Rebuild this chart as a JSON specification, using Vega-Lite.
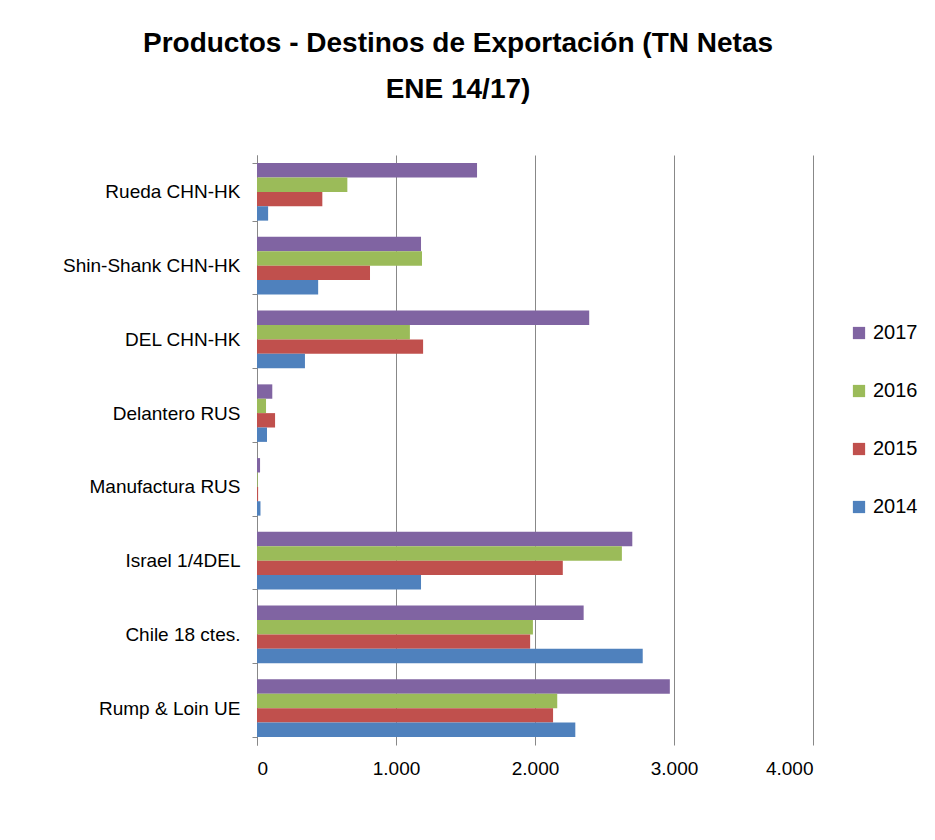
{
  "$schema": "https://vega.github.io/schema/vega-lite/v6.json",
  "width": 556,
  "height": 590,
  "autosize": {"type": "none"},
  "padding": {"left": 257, "top": 155, "right": 122, "bottom": 95},
  "background": "white",
  "title": {
    "text": ["Productos - Destinos de Exportación (TN Netas", "ENE 14/17)"],
    "font": "Liberation Sans",
    "fontSize": 28,
    "fontWeight": "bold",
    "color": "black",
    "anchor": "middle",
    "frame": "group",
    "dx": -77,
    "offset": 42,
    "lineHeight": 46
  },
  "data": {"values": [
    {"cat": "Rueda CHN-HK", "year": "2017", "v": 1583},
    {"cat": "Rueda CHN-HK", "year": "2016", "v": 650},
    {"cat": "Rueda CHN-HK", "year": "2015", "v": 470},
    {"cat": "Rueda CHN-HK", "year": "2014", "v": 80},
    {"cat": "Shin-Shank CHN-HK", "year": "2017", "v": 1180},
    {"cat": "Shin-Shank CHN-HK", "year": "2016", "v": 1187},
    {"cat": "Shin-Shank CHN-HK", "year": "2015", "v": 813},
    {"cat": "Shin-Shank CHN-HK", "year": "2014", "v": 440},
    {"cat": "DEL CHN-HK", "year": "2017", "v": 2390},
    {"cat": "DEL CHN-HK", "year": "2016", "v": 1100},
    {"cat": "DEL CHN-HK", "year": "2015", "v": 1195},
    {"cat": "DEL CHN-HK", "year": "2014", "v": 345},
    {"cat": "Delantero RUS", "year": "2017", "v": 110},
    {"cat": "Delantero RUS", "year": "2016", "v": 65},
    {"cat": "Delantero RUS", "year": "2015", "v": 130},
    {"cat": "Delantero RUS", "year": "2014", "v": 72},
    {"cat": "Manufactura RUS", "year": "2017", "v": 22},
    {"cat": "Manufactura RUS", "year": "2016", "v": 5},
    {"cat": "Manufactura RUS", "year": "2015", "v": 8},
    {"cat": "Manufactura RUS", "year": "2014", "v": 25},
    {"cat": "Israel 1/4DEL", "year": "2017", "v": 2700},
    {"cat": "Israel 1/4DEL", "year": "2016", "v": 2625},
    {"cat": "Israel 1/4DEL", "year": "2015", "v": 2200},
    {"cat": "Israel 1/4DEL", "year": "2014", "v": 1180},
    {"cat": "Chile 18 ctes.", "year": "2017", "v": 2350},
    {"cat": "Chile 18 ctes.", "year": "2016", "v": 1985},
    {"cat": "Chile 18 ctes.", "year": "2015", "v": 1965},
    {"cat": "Chile 18 ctes.", "year": "2014", "v": 2775},
    {"cat": "Rump & Loin UE", "year": "2017", "v": 2970},
    {"cat": "Rump & Loin UE", "year": "2016", "v": 2160},
    {"cat": "Rump & Loin UE", "year": "2015", "v": 2130},
    {"cat": "Rump & Loin UE", "year": "2014", "v": 2290}
  ]},
  "mark": {"type": "bar"},
  "encoding": {
    "y": {
      "field": "cat", "type": "nominal", "sort": null, "title": null,
      "scale": {"paddingInner": 0.22, "paddingOuter": 0.11},
      "axis": {"labelFont": "Liberation Sans", "labelFontSize": 19, "labelLimit": 300, "labelColor": "black", "labelPadding": 12, "domainColor": "#888", "tickColor": "#888", "tickBand": "extent", "tickSize": 5}
    },
    "yOffset": {"field": "year", "type": "nominal", "sort": "descending"},
    "x": {
      "field": "v", "type": "quantitative", "title": null,
      "scale": {"domain": [0, 4000]},
      "axis": {"values": [0, 1000, 2000, 3000, 4000], "labelExpr": "replace(format(datum.value, ','), ',', '.')", "labelFont": "Liberation Sans", "labelFontSize": 19, "labelColor": "black", "gridColor": "#888", "domain": false, "ticks": false, "labelPadding": 14}
    },
    "color": {
      "field": "year", "type": "nominal",
      "scale": {"domain": ["2017", "2016", "2015", "2014"], "range": ["#8064A2", "#9BBB59", "#C0504D", "#4F81BD"]},
      "legend": {"title": null, "labelFont": "Liberation Sans", "labelFontSize": 20, "labelColor": "black", "symbolType": "square", "symbolSize": 150, "rowPadding": 38, "orient": "none", "legendX": 592, "legendY": 168}
    }
  },
  "config": {"view": {"stroke": null}}
}
